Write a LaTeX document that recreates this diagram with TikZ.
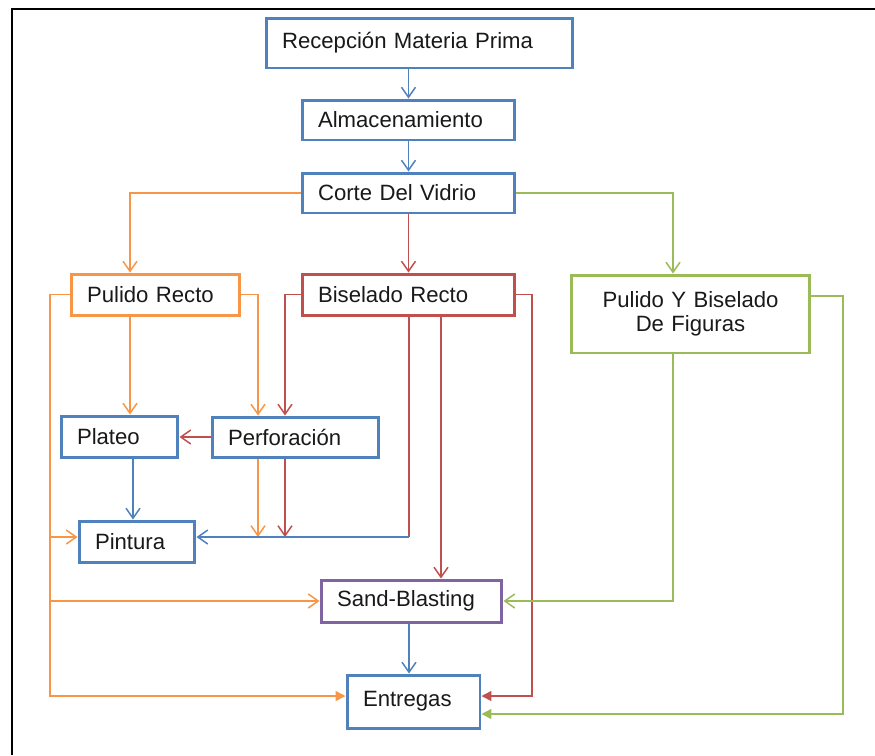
\documentclass[tikz,border=0pt]{standalone}
\usepackage{fontspec}
\setmainfont{Liberation Sans}
\usetikzlibrary{positioning}
\usetikzlibrary{arrows.meta}
\definecolor{ofblue}{HTML}{4F81BD}
\definecolor{oforange}{HTML}{F79646}
\definecolor{ofred}{HTML}{C0504D}
\definecolor{ofgreen}{HTML}{9BBB59}
\definecolor{ofpurple}{HTML}{8064A2}
\tikzset{
    mybox/.style = {rectangle, line width=1.7pt, fill=white, align=left, inner xsep=0.32cm, inner ysep=0pt, font=\fontsize{12.6}{13.8}\selectfont, text=black!90},
    boxb/.style = {mybox, draw=ofblue},
    boxo/.style = {mybox, draw=oforange},
    boxr/.style = {mybox, draw=ofred},
    boxg/.style = {mybox, draw=ofgreen},
    boxp/.style = {mybox, draw=ofpurple},
    edgen/.style = {line width=0.85pt, -{Straight Barb[length=0.2cm,width=0.28cm]}},
    edgeb/.style = {edgen, ofblue},
    edgeo/.style = {edgen, oforange},
    edger/.style = {edgen, ofred},
    edgeg/.style = {edgen, ofgreen},
    edgel/.style = {line width=0.85pt, -}, % plain line
    tipf/.style = {-{Triangle[length=0.2cm,width=0.2cm]}}, % filled tip
    frame/.style = {line width=1.2pt, black}
}
\begin{document}
\begin{tikzpicture}[x=0.02cm,y=-0.02cm]
\useasboundingbox (0,0) rectangle (875,755);
\draw[frame] (12,755) -- (12,9) -- (875,9);
%
\node[boxb, text width=5.5cm, minimum height=1.0cm] at (419.5,43) (rec) {Recepción Materia Prima};
\node[boxb, text width=3.62cm, minimum height=0.8cm] at (408.5,120) (alm) {Almacenamiento};
\node[boxb, text width=3.62cm, minimum height=0.8cm] at (408.5,193) (cor) {Corte Del Vidrio};
\node[boxo, text width=2.74cm, minimum height=0.82cm] at (155.5,294.5) (pr) {Pulido Recto};
\node[boxr, text width=3.62cm, minimum height=0.82cm] at (408.5,294.5) (br) {Biselado Recto};
\node[boxg, text width=4.14cm, align=center, minimum height=1.56cm] at (690.5,314) (pbf) {Pulido Y Biselado\\De Figuras};
\node[boxb, text width=1.7cm, minimum height=0.82cm] at (119.5,436.5) (pla) {Plateo};
\node[boxb, text width=2.7cm, minimum height=0.8cm] at (295.5,437) (per) {Perforación};
\node[boxb, text width=1.68cm, minimum height=0.82cm] at (137,541.5) (pin) {Pintura};
\node[boxp, text width=2.98cm, minimum height=0.84cm] at (411.5,601) (sb) {Sand-Blasting};
\node[boxb, text width=2.02cm, minimum height=1.06cm] at (413.5,701.5) (ent) {Entregas};
%
% guide columns and rows
\coordinate (xa) at (130,0);
\coordinate (xb) at (133,0);
\coordinate (xc) at (258,0);
\coordinate (xd) at (285,0);
\coordinate (xe) at (409,0);
\coordinate (xf) at (441,0);
\coordinate (xg) at (532,0);
\coordinate (xh) at (50,0);
\coordinate (xi) at (673,0);
\coordinate (xj) at (843,0);
\coordinate (ya) at (0,537);
\coordinate (yb) at (0,696);
\coordinate (yc) at (0,714);
\coordinate (yd) at (0,296);
%
\draw[edgeb] (rec.south -| alm) -- (alm);
\draw[edgeb] (alm) -- (cor);
\draw[edger] (cor) -- (br);
\draw[edgeo] (cor.west) -| (pr.north -| xa);
\draw[edgeg] (cor.east) -| (pbf.north -| xi);
%
\draw[edgeo] (pr.south -| xa) -- (pla.north -| xa);
\draw[edgeo] (pr.east) -| (per.north -| xc);
\draw[edger] (br.west) -| (per.north -| xd);
\draw[edger] (per.west) -- (pla.east |- per.west);
\draw[edgeb] (pla.south -| xb) -- (pin.north -| xb);
\draw[edgeo] (per.south -| xc) -- (ya -| xc);
\draw[edger] (per.south -| xd) -- (ya -| xd);
\draw[edger, edgel] (br.south -| xe) -- (ya -| xe);
\draw[edgeb] (ya -| xe) -- (pin.east |- ya);
\draw[edger] (br.south -| xf) -- (sb.north -| xf);
\draw[edger, tipf] (br.east) -| (yb -| xg) -- (ent.east |- yb);
%
\draw[edgeo, tipf] (pr.west) -| (yb -| xh) -- (ent.west |- yb);
\draw[edgeo] (ya -| xh) -- (pin.west |- ya);
\draw[edgeo] (sb.west -| xh) -- (sb.west);
\draw[edgeb] (sb.south -| xe) -- (ent.north -| xe);
%
\draw[edgeg] (pbf.south -| xi) |- (sb.east);
\draw[edgeg, tipf] (pbf.east |- yd) -| (yc -| xj) -- (ent.east |- yc);
\end{tikzpicture}
\end{document}
